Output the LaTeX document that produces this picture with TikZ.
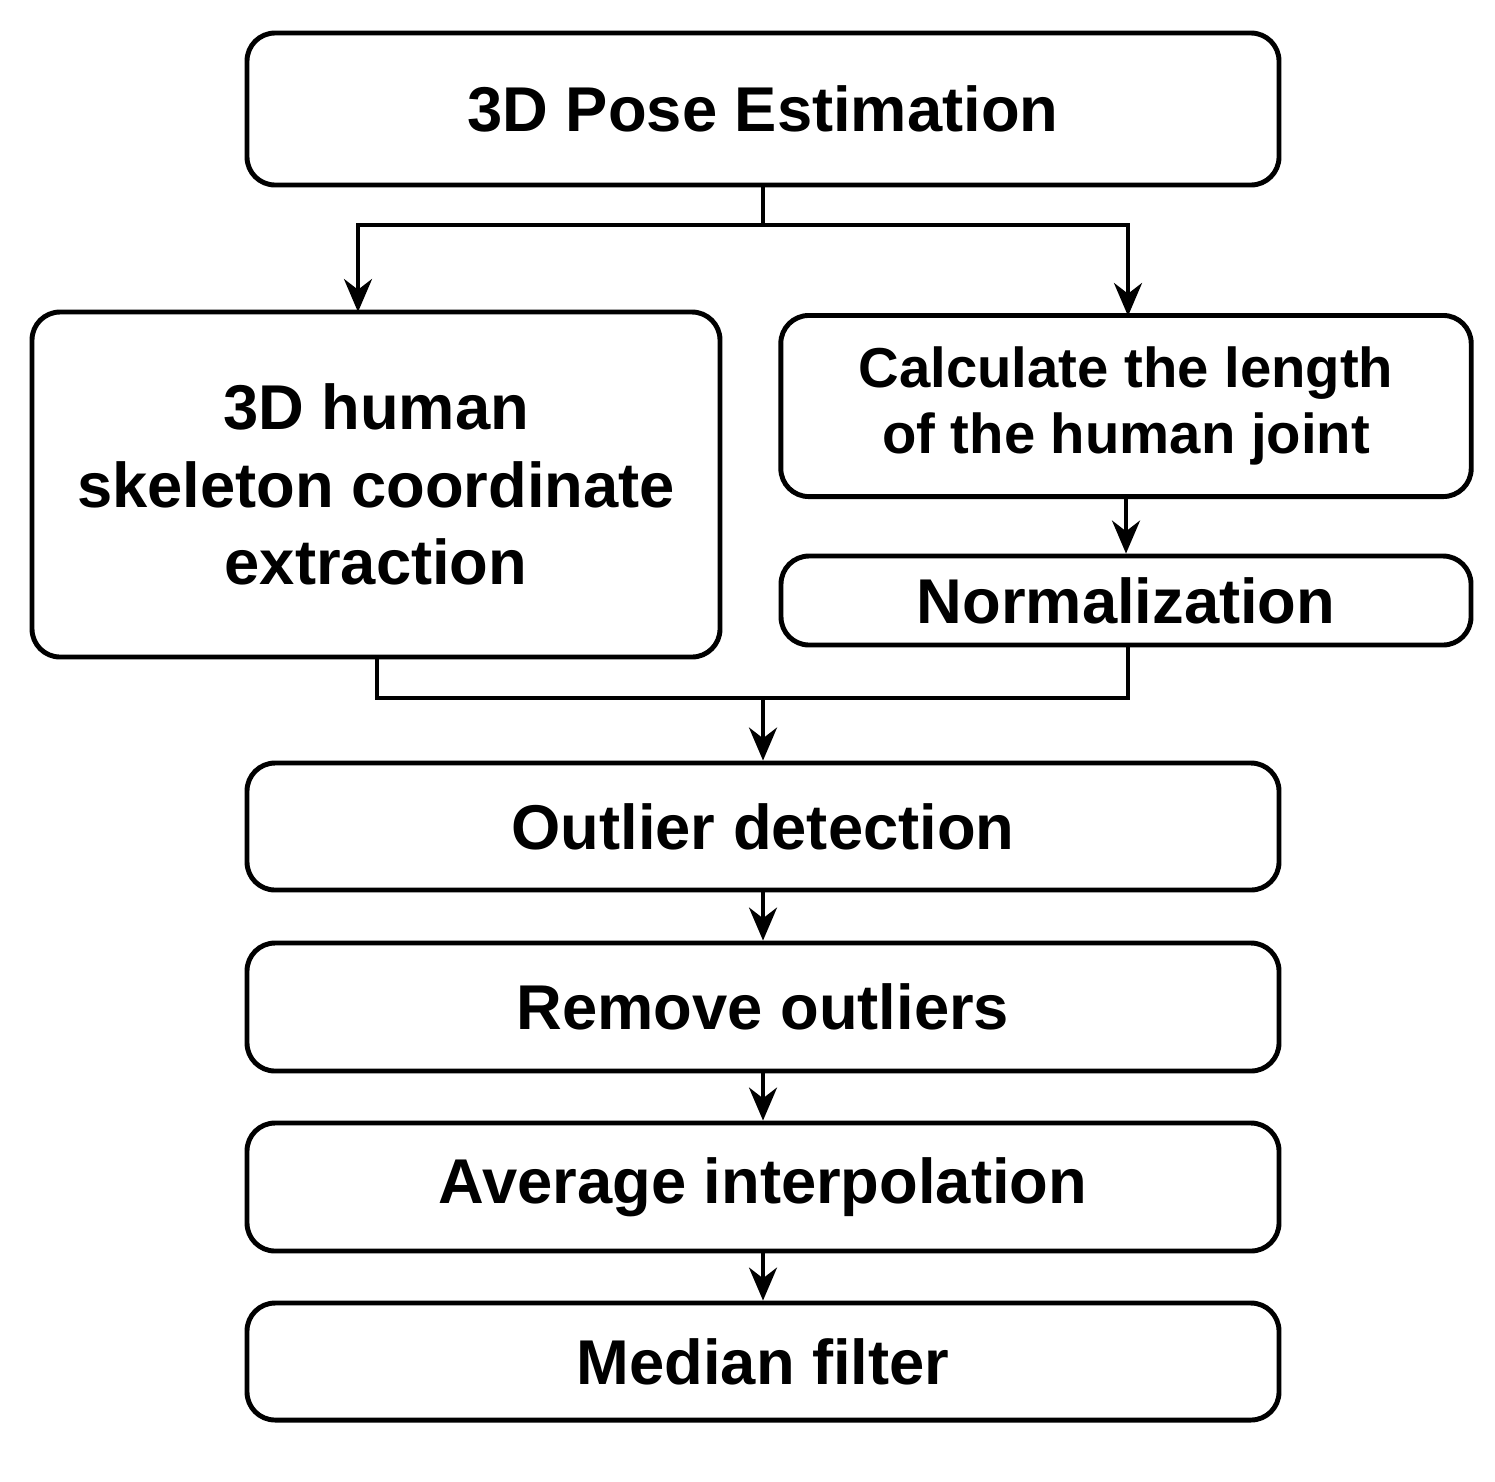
\documentclass[tikz,border=0pt]{standalone}
\usepackage{fontspec}
\setmainfont{Liberation Sans}
\usetikzlibrary{arrows.meta}
\begin{document}
\begin{tikzpicture}[x=0.01cm,y=-0.01cm,
  box/.style={draw,line width=1.4pt,rounded corners=0.28cm,align=center,inner sep=0pt,font=\fontsize{18}{22}\selectfont\bfseries},
  conn/.style={line width=1.1pt},
  arr/.style={conn,-{Stealth[length=0.33cm,width=0.28cm]}}]
\useasboundingbox (0,0) rectangle (1495,1481);
\newcommand{\mybox}[6]{\node[box,minimum width={(#4-#2)*0.01cm},minimum height={(#5-#3)*0.01cm}] (#1) at ({(#2+#4)/2},{(#3+#5)/2}) {#6};}
\mybox{top}{247}{33}{1279}{185}{3D Pose Estimation}
\mybox{left}{32}{312}{720}{657}{3D human\\skeleton coordinate\\extraction}
\node[box,minimum width=6.9cm,minimum height=1.81cm,font=\fontsize{16}{19}\selectfont\bfseries] (calc) at (1126,406) {Calculate the length\\of the human joint};
\mybox{norm}{781}{556}{1471}{645}{Normalization}
\mybox{outl}{247}{763}{1279}{890}{Outlier detection}
\mybox{rem}{247}{943}{1279}{1071}{Remove outliers}
\mybox{avg}{247}{1123}{1279}{1251}{Average interpolation}
\mybox{med}{247}{1303}{1279}{1420}{Median filter}
\coordinate (s1) at (763,225);
\draw[conn] (top.south) -- (s1);
\draw[arr] (s1) -- (358,225) -- (358,312);
\draw[arr] (s1) -- (1128,225) -- (1128,316);
\draw[arr] (calc.south) -- (norm.north);
\coordinate (j) at (763,698);
\draw[conn] (377,657) -- (377,698) -- (1128,698) -- (1128,645);
\draw[arr] (j) -- (outl.north);
\draw[arr] (outl.south) -- (rem.north);
\draw[arr] (rem.south) -- (avg.north);
\draw[arr] (avg.south) -- (med.north);
\end{tikzpicture}
\end{document}
